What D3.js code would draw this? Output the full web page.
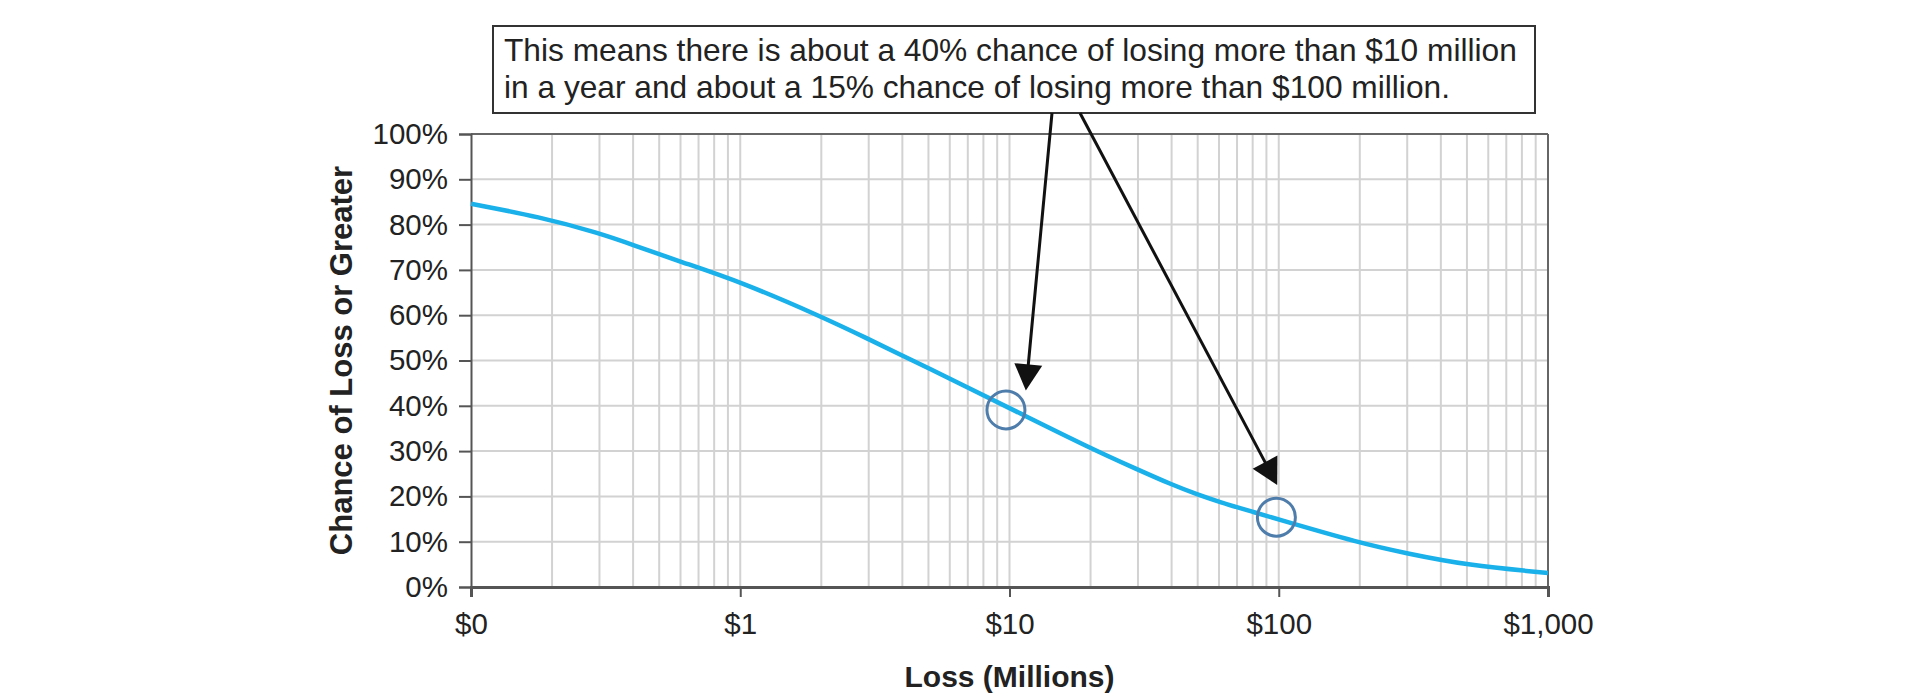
<!DOCTYPE html>
<html>
<head>
<meta charset="utf-8">
<script src="https://cdn.jsdelivr.net/npm/d3@7"></script>
<style>
  html, body { margin: 0; padding: 0; background: #ffffff; }
  svg { display: block; }
  text { font-family: "Liberation Sans", Arial, Helvetica, sans-serif; fill: #222; }
</style>
</head>
<body>
<svg id="chart" width="1920" height="700"></svg>
<script>
// ---- data ----
const lossValues = [0.1, 0.18, 0.3, 0.4, 0.6, 1, 2, 3, 4, 5, 7, 10, 20, 30, 40, 50, 60, 80, 100, 200, 300, 500, 1000];
const chanceValues = [0.846, 0.817, 0.781, 0.755, 0.718, 0.674, 0.597, 0.547, 0.511, 0.483, 0.440, 0.395, 0.306, 0.259, 0.226, 0.204, 0.188, 0.166, 0.149, 0.097, 0.074, 0.048, 0.031];
const markerLoss = [9.7, 98];
const markerChance = [0.391, 0.154];
const arrowTipLoss = [11.5, 98.7];
const arrowTipChance = [0.434, 0.225];
const xTickValues = [0.1, 1, 10, 100, 1000];
const yTickValues = [0, 0.1, 0.2, 0.3, 0.4, 0.5, 0.6, 0.7, 0.8, 0.9, 1.0];
const noteLines = [
  "This means there is about a 40% chance of losing more than $10 million",
  "in a year and about a 15% chance of losing more than $100 million."
];
const xTitle = "Loss (Millions)";
const yTitle = "Chance of Loss or Greater";

// ---- layout ----
const margin = { left: 471, right: 372, top: 134, bottom: 113 };
const W = 1920, H = 700;
const svg = d3.select("#chart");

const x = d3.scaleLog().domain([0.1, 1000]).range([margin.left, W - margin.right]);
const y = d3.scaleLinear().domain([0, 1]).range([H - margin.bottom, margin.top]);

const gridColor = "#d2d2d2";
const frameColor = "#555";

// vertical grid lines (all log ticks)
svg.append("g").selectAll("line")
  .data(x.ticks().filter(d => d > 0.1 && d < 1000))
  .join("line")
  .attr("x1", d => x(d)).attr("x2", d => x(d))
  .attr("y1", y(0)).attr("y2", y(1))
  .attr("stroke", gridColor).attr("stroke-width", 2);

// horizontal grid lines
svg.append("g").selectAll("line")
  .data(yTickValues.filter(d => d > 0 && d < 1))
  .join("line")
  .attr("x1", x(0.1)).attr("x2", x(1000))
  .attr("y1", d => y(d)).attr("y2", d => y(d))
  .attr("stroke", gridColor).attr("stroke-width", 2);

// frame top & right
svg.append("line")
  .attr("x1", x(0.1)).attr("x2", x(1000)).attr("y1", y(1)).attr("y2", y(1))
  .attr("stroke", "#666").attr("stroke-width", 2);
svg.append("line")
  .attr("x1", x(1000)).attr("x2", x(1000)).attr("y1", y(0)).attr("y2", y(1))
  .attr("stroke", "#666").attr("stroke-width", 2);

// y axis
const yAxis = d3.axisLeft(y).tickValues(yTickValues).tickFormat(d3.format(".0%"))
  .tickSize(12).tickPadding(11);
const gy = svg.append("g").attr("transform", `translate(${x(0.1)},0)`).call(yAxis);
gy.select(".domain").attr("stroke", frameColor).attr("stroke-width", 2);
gy.selectAll(".tick line").attr("stroke", frameColor).attr("stroke-width", 2);
gy.selectAll(".tick text")
  .attr("font-size", 29.5).attr("fill", "#222")
  .attr("font-family", '"Liberation Sans", Arial, sans-serif');

// x axis
const xAxis = d3.axisBottom(x).tickValues(xTickValues).tickFormat(d3.format("$,.0f"))
  .tickSize(10).tickPadding(16);
const gx = svg.append("g").attr("transform", `translate(0,${y(0)})`).call(xAxis);
gx.select(".domain").attr("stroke", frameColor).attr("stroke-width", 3);
gx.selectAll(".tick line").attr("stroke", frameColor).attr("stroke-width", 2);
gx.selectAll(".tick text")
  .attr("font-size", 29.5).attr("fill", "#222")
  .attr("font-family", '"Liberation Sans", Arial, sans-serif');

// axis titles
svg.append("text")
  .attr("x", (x(0.1) + x(1000)) / 2).attr("y", 687)
  .attr("text-anchor", "middle")
  .attr("font-size", 30).attr("font-weight", "bold")
  .text(xTitle);

svg.append("text")
  .attr("transform", `translate(352,${(y(0) + y(1)) / 2}) rotate(-90)`)
  .attr("text-anchor", "middle")
  .attr("font-size", 31).attr("font-weight", "bold")
  .text(yTitle);

// curve
const pts = lossValues.map((v, i) => [v, chanceValues[i]]);
const line = d3.line()
  .x(d => x(d[0])).y(d => y(d[1]))
  .curve(d3.curveBasis);
svg.append("path")
  .datum(pts)
  .attr("d", line)
  .attr("fill", "none")
  .attr("stroke", "#1ab0ea")
  .attr("stroke-width", 4.5)
  .attr("stroke-linecap", "butt");

// marker circles
svg.append("g").selectAll("circle")
  .data(markerLoss.map((v, i) => [v, markerChance[i]]))
  .join("circle")
  .attr("cx", d => x(d[0])).attr("cy", d => y(d[1]))
  .attr("r", 19)
  .attr("fill", "none")
  .attr("stroke", "#4f7dab")
  .attr("stroke-width", 3);

// annotation box
const box = { x: 493, y: 26, w: 1042, h: 87 };
svg.append("rect")
  .attr("x", box.x).attr("y", box.y).attr("width", box.w).attr("height", box.h)
  .attr("fill", "#fff").attr("stroke", "#333").attr("stroke-width", 2);
svg.append("g").selectAll("text")
  .data(noteLines)
  .join("text")
  .attr("x", box.x + 11)
  .attr("y", (d, i) => 61 + i * 37)
  .attr("font-size", 31.7)
  .attr("fill", "#222")
  .text(d => d);

// arrows
const arrowStarts = [[1052, box.y + box.h], [1080, box.y + box.h]];
const headLen = 26, headHalf = 14;
arrowStarts.forEach((s, i) => {
  const tx = x(arrowTipLoss[i]), ty = y(arrowTipChance[i]);
  const dx = tx - s[0], dy = ty - s[1];
  const len = Math.hypot(dx, dy);
  const ux = dx / len, uy = dy / len;
  const bx = tx - ux * headLen, by = ty - uy * headLen;
  svg.append("line")
    .attr("x1", s[0]).attr("y1", s[1]).attr("x2", bx + ux * 2).attr("y2", by + uy * 2)
    .attr("stroke", "#111").attr("stroke-width", 3);
  svg.append("path")
    .attr("d", `M${tx},${ty} L${bx - uy * headHalf},${by + ux * headHalf} L${bx + uy * headHalf},${by - ux * headHalf} Z`)
    .attr("fill", "#111");
});
</script>
</body>
</html>
